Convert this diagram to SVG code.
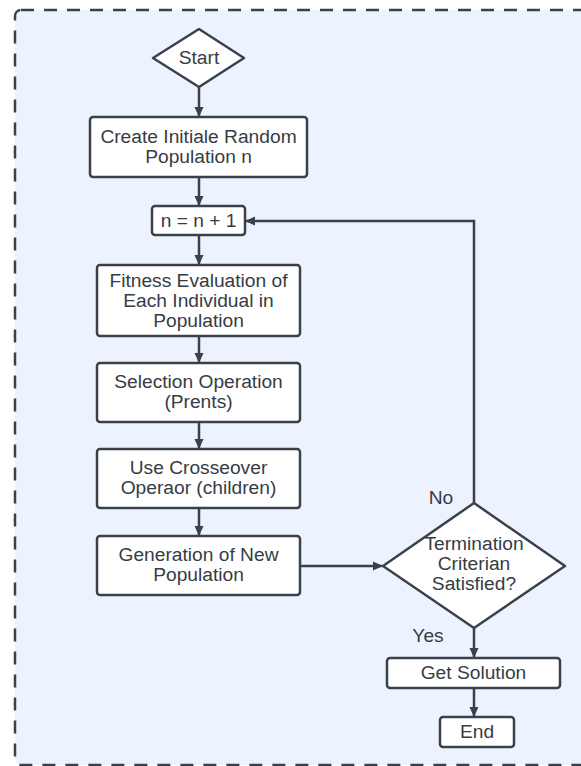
<svg xmlns="http://www.w3.org/2000/svg" width="581" height="766" viewBox="0 0 581 766">
<style>
.bg{fill:#ecf3fe;stroke:#3a414a;stroke-width:2.5;stroke-dasharray:13 10}
.n{fill:#ffffff;stroke:#3a414a;stroke-width:2.5}
.t{font-family:"Liberation Sans",Arial,sans-serif;font-size:19.2px;fill:#363c44;text-anchor:middle}
.c{fill:none;stroke:#3a414a;stroke-width:2.5}
</style>
<defs>
<marker id="ah" markerWidth="10" markerHeight="10" viewBox="0 0 10 10" refX="9" refY="5" orient="auto" markerUnits="userSpaceOnUse">
<path d="M0,0.5 L10,5 L0,9.5 Z" fill="#3a414a"/>
</marker>
</defs>
<rect class="bg" x="15" y="10" width="580" height="755" rx="6"/>
<g id="connectors">
<line class="c" x1="199" y1="87" x2="199" y2="116" marker-end="url(#ah)"/>
<line class="c" x1="199" y1="177" x2="199" y2="205" marker-end="url(#ah)"/>
<line class="c" x1="199" y1="235" x2="199" y2="264" marker-end="url(#ah)"/>
<line class="c" x1="199" y1="336" x2="199" y2="362" marker-end="url(#ah)"/>
<line class="c" x1="199" y1="422" x2="199" y2="448" marker-end="url(#ah)"/>
<line class="c" x1="199" y1="508" x2="199" y2="535" marker-end="url(#ah)"/>
<line class="c" x1="300" y1="566" x2="382" y2="566" marker-end="url(#ah)"/>
<polyline class="c" points="474,503 474,221 246,221" marker-end="url(#ah)"/>
<line class="c" x1="474" y1="628" x2="474" y2="657" marker-end="url(#ah)"/>
<line class="c" x1="474" y1="688" x2="474" y2="716" marker-end="url(#ah)"/>
<text class="t" x="441" y="504">No</text>
<text class="t" x="428" y="642">Yes</text>
</g>
<g id="start">
<polygon class="n" points="199,29 244,58 199,87 153,58" stroke-linejoin="round"/>
<text class="t" x="199" y="64">Start</text>
</g>
<g id="create">
<rect class="n" x="90" y="117" width="217" height="60" rx="3"/>
<text class="t" x="198.5" y="143">Create Initiale Random</text>
<text class="t" x="198.5" y="163">Population n</text>
</g>
<g id="increment">
<rect class="n" x="152" y="206" width="93" height="29" rx="3"/>
<text class="t" x="198.5" y="227">n = n + 1</text>
</g>
<g id="fitness">
<rect class="n" x="97" y="265" width="203" height="71" rx="3"/>
<text class="t" x="198.5" y="287">Fitness Evaluation of</text>
<text class="t" x="198.5" y="307">Each Individual in</text>
<text class="t" x="198.5" y="327">Population</text>
</g>
<g id="selection">
<rect class="n" x="97" y="363" width="203" height="59" rx="3"/>
<text class="t" x="198.5" y="388">Selection Operation</text>
<text class="t" x="198.5" y="408">(Prents)</text>
</g>
<g id="crossover">
<rect class="n" x="97" y="449" width="203" height="59" rx="3"/>
<text class="t" x="198.5" y="474">Use Crosseover</text>
<text class="t" x="198.5" y="494">Operaor (children)</text>
</g>
<g id="generation">
<rect class="n" x="97" y="536" width="203" height="59" rx="3"/>
<text class="t" x="198.5" y="561">Generation of New</text>
<text class="t" x="198.5" y="581">Population</text>
</g>
<g id="termination">
<polygon class="n" points="474,503 565,566 474,628 383,566" stroke-linejoin="round"/>
<text class="t" x="474" y="550">Termination</text>
<text class="t" x="474" y="570">Criterian</text>
<text class="t" x="474" y="590">Satisfied?</text>
</g>
<g id="solution">
<rect class="n" x="387" y="658" width="173" height="30" rx="3"/>
<text class="t" x="473.5" y="679">Get Solution</text>
</g>
<g id="end">
<rect class="n" x="440" y="717" width="74" height="30" rx="3"/>
<text class="t" x="477" y="738">End</text>
</g>
</svg>
